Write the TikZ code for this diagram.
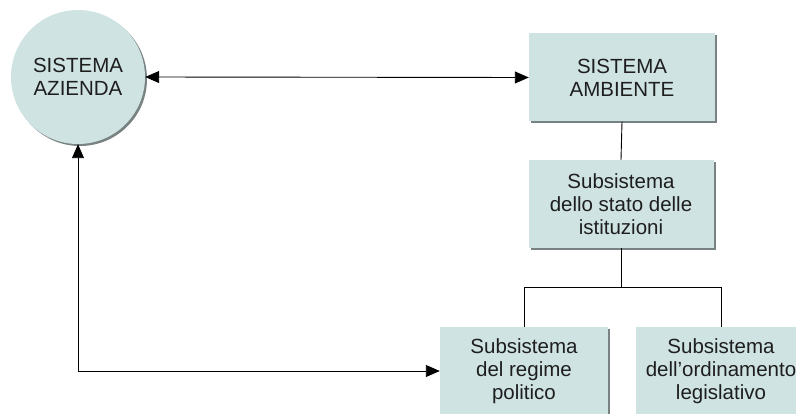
\documentclass[tikz,border=0pt]{standalone}
\usepackage{fontspec}
\setmainfont{Liberation Sans}
\usetikzlibrary{arrows.meta,shadows}
\definecolor{boxfill}{RGB}{208,227,227}
\definecolor{shadowgray}{RGB}{120,130,130}
\definecolor{inkgray}{RGB}{30,30,30}
\begin{document}
\begin{tikzpicture}[x=1pt,y=-1pt,
  every node/.style={font=\fontsize{20.5}{23}\selectfont, align=center, inner sep=0pt, text=inkgray},
  shade box/.style={fill=boxfill, drop shadow={shadow xshift=2pt, shadow yshift=-2pt, fill=shadowgray, opacity=1}},
  unit/.style={shade box, rectangle, minimum width=#1, minimum height=88pt},
  link/.style={draw=black, line width=0.9pt},
  both/.style={link, {Triangle[length=14pt,width=12pt]}-{Triangle[length=14pt,width=12pt]}}]
  \useasboundingbox (0,0) rectangle (796,414);

  % system nodes
  \node[shade box, circle, minimum size=134pt] (az) at (78,77) {SISTEMA\\AZIENDA};
  \node[unit=186pt] (amb) at (622,77.5) {SISTEMA\\AMBIENTE};
  \node[unit=185pt] (ist) at (621,204) {Subsistema\\dello stato delle\\istituzioni};
  \node[unit=168pt] (reg) at (524,371) {Subsistema\\del regime\\politico};
  \node[unit=170pt] (ord) at (721,371) {Subsistema\\dell’ordinamento\\legislativo};

  % branching point of the lower tree
  \coordinate (split) at (ist.south |- 0,287);

  % connectors
  \draw[both] (az.east) -- (amb.west);
  \draw[both] (reg.west) -| (az.south);
  \draw[link] (amb.south) -- (ist.north);
  \draw[link] (ist.south) -- (split);
  \draw[link] (split) -| (reg.north);
  \draw[link] (split) -| (ord.north);
\end{tikzpicture}
\end{document}
